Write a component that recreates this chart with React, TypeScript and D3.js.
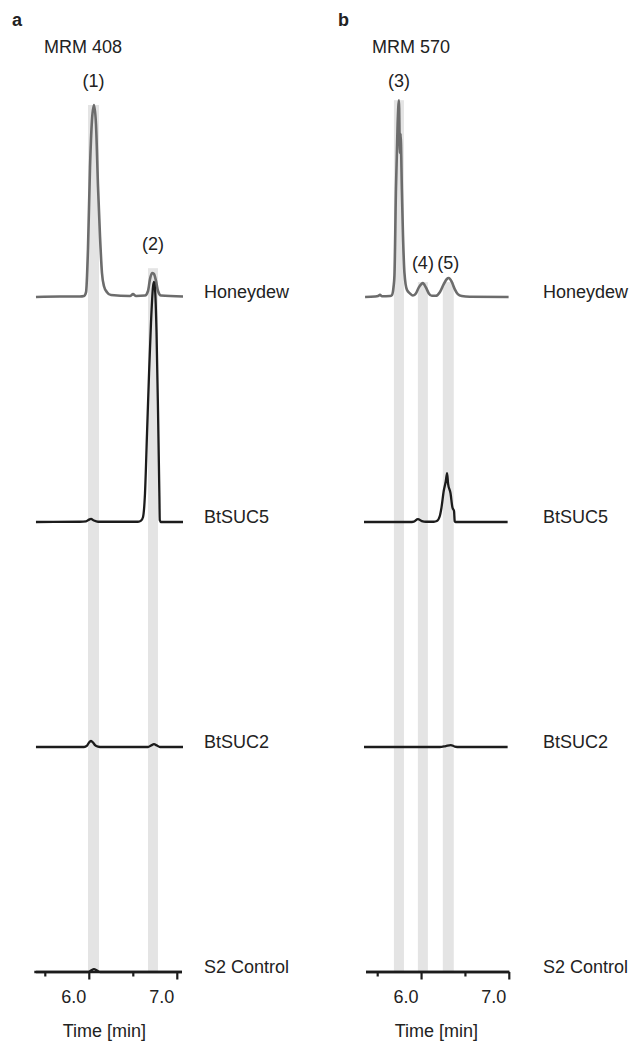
import React from 'react';
import * as d3 from 'd3';

type Pt = [number, number];

// ---------- data ----------
const samples = ['Honeydew', 'BtSUC5', 'BtSUC2', 'S2 Control'];
const panelLetters = ['a', 'b'];
const panelTitles = ['MRM 408', 'MRM 570'];
const tickValues = [5.5, 6.0, 6.5, 7.0];
const majorTicks = [6.0, 7.0];
const tickLabels = ['6.0', '7.0'];
const axisTitle = 'Time [min]';

// time [min], relative intensity [%]
const a_honeydew: Pt[] = [
  [5.394, 0], [5.667, 0.2], [5.894, 0.2], [5.94, 0.4], [5.963, 2], [5.985, 20],
  [6.008, 54], [6.031, 74], [6.053, 80], [6.076, 72], [6.099, 46], [6.122, 25],
  [6.144, 10], [6.167, 4.5], [6.201, 2], [6.247, 0.8], [6.463, 0.4], [6.497, 1.2],
  [6.531, 0.4], [6.633, 0.6], [6.667, 2.5], [6.69, 7.5], [6.713, 10], [6.735, 9.6],
  [6.758, 6.7], [6.781, 2.5], [6.815, 0.6], [7.065, 0.2],
];
const a_btsuc5: Pt[] = [
  [5.394, 0], [5.894, 0.1], [5.963, 0.3], [5.997, 1], [6.019, 1.3], [6.053, 0.6],
  [6.099, 0.1], [6.553, 0.1], [6.588, 0.6], [6.61, 2], [6.633, 12], [6.656, 37],
  [6.679, 62], [6.701, 83], [6.724, 98], [6.735, 100], [6.747, 97], [6.764, 79],
  [6.781, 46], [6.796, 12], [6.801, 0.8], [6.815, 0], [7.065, 0],
];
const a_btsuc2: Pt[] = [
  [5.394, 0], [5.94, 0], [5.974, 0.6], [5.997, 1.9], [6.019, 2.5], [6.042, 1.9],
  [6.065, 0.8], [6.099, 0.2], [6.144, 0], [6.667, 0], [6.701, 0.6], [6.735, 1.2],
  [6.769, 0.6], [6.803, 0], [7.065, 0],
];
const a_control: Pt[] = [
  [5.394, 0], [5.985, 0], [6.019, 0.6], [6.053, 1.2], [6.088, 0.6], [6.122, 0], [7.053, 0],
];

const b_honeydew: Pt[] = [
  [5.356, 0], [5.469, 0.2], [5.503, 0.4], [5.526, 0.9], [5.549, 0.3], [5.64, 0.4],
  [5.662, 0.8], [5.68, 4], [5.691, 9], [5.708, 45], [5.727, 72], [5.742, 82],
  [5.753, 60], [5.761, 68], [5.776, 44], [5.788, 26], [5.805, 10], [5.833, 3],
  [5.867, 1.5], [5.901, 0.6], [5.935, 1.5], [5.969, 4], [6.015, 5.8], [6.049, 4],
  [6.083, 1.5], [6.117, 0.5], [6.163, 0.5], [6.208, 2], [6.253, 5.4], [6.288, 7.5],
  [6.31, 7.9], [6.344, 6.3], [6.378, 3.3], [6.413, 1.2], [6.458, 0.4], [6.549, 0.1],
  [6.992, 0],
];
const b_btsuc5: Pt[] = [
  [5.344, 0], [5.867, 0], [5.912, 0.2], [5.958, 1.2], [6.003, 0.4], [6.049, 0.1],
  [6.14, 0.1], [6.174, 0.4], [6.208, 2.5], [6.227, 6], [6.253, 13], [6.276, 17],
  [6.291, 20.4], [6.302, 16], [6.33, 12], [6.352, 6], [6.37, 4.6], [6.378, 0.3],
  [6.39, 0], [6.981, 0],
];
const b_btsuc2: Pt[] = [
  [5.344, 0], [6.208, 0], [6.276, 0.4], [6.333, 0.8], [6.378, 0.2], [6.435, 0], [6.981, 0],
];
const b_control: Pt[] = [[5.367, 0], [7.0, 0]];

// highlighted peaks: [start, end, top intensity in Honeydew trace]
const a_peakLabels = ['(1)', '(2)'];
const a_bands: [number, number, number][] = [[5.985, 6.11, 80], [6.667, 6.78, 12]];
const b_peakLabels = ['(3)', '(4)', '(5)'];
const b_bands: [number, number, number][] = [[5.685, 5.799, 82], [5.958, 6.072, 6.2], [6.242, 6.367, 6.2]];

// ---------- layout ----------
const W = 634;
const H = 1044;
const FONT = '"Liberation Sans", Arial, Helvetica, sans-serif';
const TEXT = '#222';
const GREY_LINE = '#6c6c6c';
const DARK_LINE = '#1c1c1c';
const BAND = '#e4e4e4';

const rowY = d3.scalePoint<string>().domain(samples).range([297, 972]);
const yAmp = d3.scaleLinear().domain([0, 100]).range([0, 240]);

const panels = [
  {
    letter: panelLetters[0], title: panelTitles[0],
    letterX: 12, titleX: 44,
    x: d3.scaleLinear().domain([5.5, 7.0]).range([45.3, 177.3]),
    axisExtent: [5.375, 7.053],
    traces: [a_honeydew, a_btsuc5, a_btsuc2, a_control],
    bands: a_bands, peakLabels: a_peakLabels, labelGap: 18.5,
    sampleX: 204,
  },
  {
    letter: panelLetters[1], title: panelTitles[1],
    letterX: 338, titleX: 372,
    x: d3.scaleLinear().domain([5.5, 7.0]).range([377.7, 509.3]),
    axisExtent: [5.367, 7.0],
    traces: [b_honeydew, b_btsuc5, b_btsuc2, b_control],
    bands: b_bands, peakLabels: b_peakLabels, labelGap: 13.5,
    sampleX: 543,
  },
];

function Panel({ p }: { p: typeof panels[number] }) {
  const axisY = rowY(samples[samples.length - 1])!;
  const honeyBase = rowY(samples[0])!;
  return (
    <g>
      <text x={p.letterX} y={26} fontSize={18} fontWeight="bold" fill={TEXT}>{p.letter}</text>
      <text x={p.titleX} y={53} fontSize={18} fill={TEXT}>{p.title}</text>

      {p.bands.map((b, i) => {
        const x0 = p.x(b[0]);
        const x1 = p.x(b[1]);
        const top = honeyBase - yAmp(b[2]);
        return (
          <g key={'band' + i}>
            <rect x={x0} y={top} width={x1 - x0} height={axisY - top} fill={BAND} />
            <text x={(x0 + x1) / 2} y={top - p.labelGap} fontSize={18} textAnchor="middle" fill={TEXT}>
              {p.peakLabels[i]}
            </text>
          </g>
        );
      })}

      {p.traces.map((tr, i) => {
        const base = rowY(samples[i])!;
        const line = d3.line<Pt>()
          .x(d => p.x(d[0]))
          .y(d => base - yAmp(d[1]))
          .curve(d3.curveMonotoneX);
        return (
          <path key={'tr' + i} d={line(tr) || ''} fill="none"
            stroke={i === 0 ? GREY_LINE : DARK_LINE}
            strokeWidth={i === 0 ? 2.6 : 2.3} strokeLinejoin="round" />
        );
      })}

      {samples.map((s, i) => (
        <text key={'s' + i} x={p.sampleX} y={rowY(s)! + 1} fontSize={18} fill={TEXT}>{s}</text>
      ))}

      <line x1={p.x(p.axisExtent[0])} x2={p.x(p.axisExtent[1])} y1={axisY} y2={axisY}
        stroke={DARK_LINE} strokeWidth={2.4} />
      {tickValues.map(t => {
        const major = majorTicks.includes(t);
        return (
          <line key={'t' + t} x1={p.x(t)} x2={p.x(t)} y1={axisY} y2={axisY + (major ? 7.5 : 4.5)}
            stroke={DARK_LINE} strokeWidth={2.2} />
        );
      })}
      {majorTicks.map((t, i) => (
        <text key={'tl' + t} x={p.x(t) - 15.5} y={1003} fontSize={18} textAnchor="middle" fill={TEXT}>
          {tickLabels[i]}
        </text>
      ))}
      <text x={p.x(6.5) - 29} y={1037} fontSize={18} textAnchor="middle" fill={TEXT}>{axisTitle}</text>
    </g>
  );
}

export default function App() {
  return (
    <svg width={W} height={H} viewBox={`0 0 ${W} ${H}`}
      style={{ position: 'absolute', left: 0, top: 0, background: '#fff', fontFamily: FONT }}>
      <rect width={W} height={H} fill="#fff" />
      {panels.map((p, i) => <Panel key={i} p={p} />)}
    </svg>
  );
}
